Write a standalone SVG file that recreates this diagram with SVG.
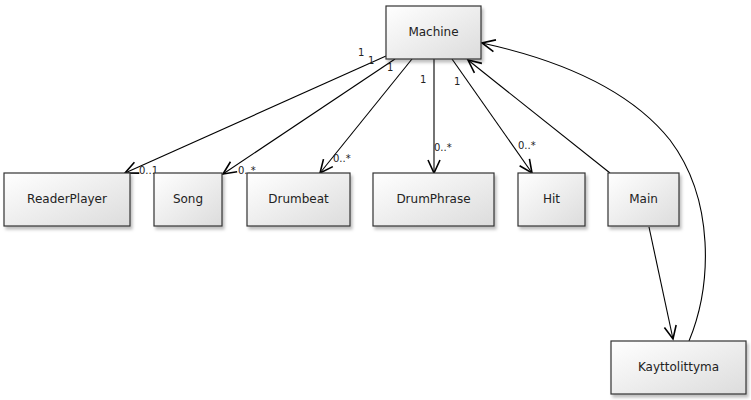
<svg xmlns="http://www.w3.org/2000/svg" width="751" height="400" viewBox="0 0 751 400">
<defs>
<linearGradient id="g" x1="0" y1="0" x2="1" y2="1">
<stop offset="0" stop-color="#ffffff"/>
<stop offset="1" stop-color="#dcdcdc"/>
</linearGradient>
<filter id="sh" x="-10%" y="-10%" width="130%" height="140%">
<feDropShadow dx="2" dy="3" stdDeviation="1.5" flood-color="#000" flood-opacity="0.25"/>
</filter>
<marker id="arr" markerUnits="userSpaceOnUse" viewBox="-14 -8 16 16" refX="0" refY="0" markerWidth="16" markerHeight="16" orient="auto">
<path d="M-13,-6 L0,0 L-13,6" fill="none" stroke="#000" stroke-width="1.6"/>
</marker>
</defs>
<style>
.box{fill:url(#g);stroke:#333;stroke-width:1.2;filter:url(#sh)}
.t{font-family:"DejaVu Sans",Verdana,sans-serif;font-size:12px;fill:#222;text-anchor:middle}
.m{font-family:"DejaVu Sans",Verdana,sans-serif;font-size:10px;fill:#222}
.c{fill:none;stroke:#000;stroke-width:1.1}
</style>
<g id="connectors">
<line class="c" x1="386" y1="56" x2="125" y2="173" marker-end="url(#arr)"/>
<line class="c" x1="395" y1="59" x2="223" y2="174" marker-end="url(#arr)"/>
<line class="c" x1="412" y1="59" x2="320" y2="173" marker-end="url(#arr)"/>
<line class="c" x1="434" y1="59" x2="434" y2="173" marker-end="url(#arr)"/>
<line class="c" x1="452" y1="59" x2="532" y2="173" marker-end="url(#arr)"/>
<line class="c" x1="610" y1="173" x2="468" y2="60" marker-end="url(#arr)"/>
<line class="c" x1="649" y1="227" x2="673" y2="339" marker-end="url(#arr)"/>
<path class="c" d="M689,341 C712,285 715,200 670,140 C630,90 560,60 482,43" marker-end="url(#arr)"/>
<text class="m" x="358" y="56">1</text>
<text class="m" x="368" y="64">1</text>
<text class="m" x="387" y="71">1</text>
<text class="m" x="420" y="83">1</text>
<text class="m" x="454" y="85">1</text>
<text class="m" x="139" y="174">0..1</text>
<text class="m" x="238" y="174">0..*</text>
<text class="m" x="333" y="162">0..*</text>
<text class="m" x="434" y="151">0..*</text>
<text class="m" x="518" y="149">0..*</text>
</g>
<g id="Machine"><rect class="box" x="386" y="6" width="95" height="53"/><text class="t" x="433.5" y="36">Machine</text></g>
<g id="ReaderPlayer"><rect class="box" x="4" y="173" width="126" height="53"/><text class="t" x="67" y="203">ReaderPlayer</text></g>
<g id="Song"><rect class="box" x="154" y="173" width="68" height="53"/><text class="t" x="188" y="203">Song</text></g>
<g id="Drumbeat"><rect class="box" x="247" y="173" width="103" height="53"/><text class="t" x="298.5" y="203">Drumbeat</text></g>
<g id="DrumPhrase"><rect class="box" x="373" y="173" width="121" height="53"/><text class="t" x="433.5" y="203">DrumPhrase</text></g>
<g id="Hit"><rect class="box" x="518" y="173" width="67" height="53"/><text class="t" x="551.5" y="203">Hit</text></g>
<g id="Main"><rect class="box" x="608" y="173" width="71" height="53"/><text class="t" x="643.5" y="203">Main</text></g>
<g id="Kayttolittyma"><rect class="box" x="611" y="341" width="135" height="53"/><text class="t" x="678.5" y="371">Kayttolittyma</text></g>
</svg>
